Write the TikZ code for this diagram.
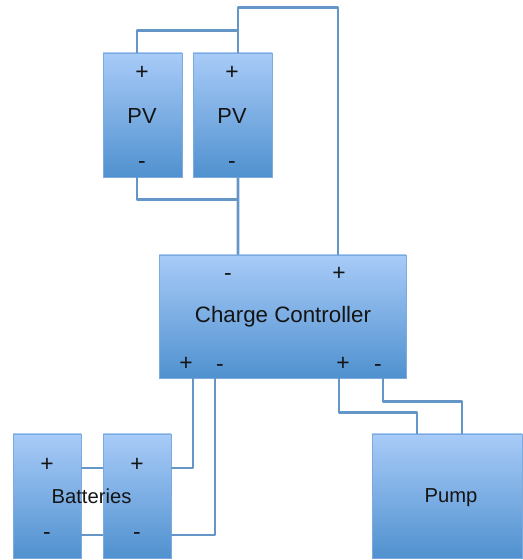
\documentclass[tikz,border=0pt]{standalone}
\usepackage{fontspec}
\setmainfont{Liberation Sans}
\usetikzlibrary{shadows}
\tikzset{
    block/.style={rectangle, draw=boxedge, line width=0.3pt, top color=boxtop, bottom color=boxbottom, inner sep=0pt, drop shadow={shadow xshift=0.4pt, shadow yshift=-0.6pt, opacity=0.35}},
    wire/.style={draw=wirecol, line width=1.6pt, line join=round},
    pole/.style={text=black!92, font=\fontsize{11.5}{12}\selectfont},
    sign/.style={pole, font=\fontsize{13}{14}\selectfont},
}
\definecolor{boxtop}{RGB}{168,203,248}
\definecolor{boxbottom}{RGB}{80,145,207}
\definecolor{boxedge}{RGB}{125,170,220}
\definecolor{wirecol}{RGB}{100,150,200}
\begin{document}
\begin{tikzpicture}
        \useasboundingbox (0, 0) rectangle (10.44, 11.2);
        \node[block, minimum width = 1.58cm, minimum height = 2.48cm] (pvone) at (2.85, 8.90) {};
        \node[block, minimum width = 1.58cm, minimum height = 2.48cm] (pvtwo) at (4.65, 8.90) {};
        \node[block, minimum width = 4.94cm, minimum height = 2.46cm] (cc) at (5.65, 4.87) {};
        \node[block, minimum width = 1.36cm, minimum height = 2.48cm] (batone) at (0.94, 1.28) {};
        \node[block, minimum width = 1.36cm, minimum height = 2.48cm] (battwo) at (2.74, 1.28) {};
        \node[block, minimum width = 3cm, minimum height = 2.48cm] (pump) at (8.94, 1.28) {};
        % solar panels
        \node[sign] (pvoneplus) at (2.84, 9.74) {+};
        \node[pole, font = \fontsize{12.4}{13}\selectfont] (pvonelabel) at (2.84, 8.88) {PV};
        \node[sign] (pvoneminus) at (2.84, 7.90) {-};
        \node[sign] (pvtwoplus) at (4.64, 9.74) {+};
        \node[pole, font = \fontsize{12.4}{13}\selectfont] (pvtwolabel) at (4.64, 8.88) {PV};
        \node[sign] (pvtwominus) at (4.64, 7.90) {-};
        \draw[wire] ([xshift = -0.11cm]pvone.north) |- ([xshift = 0.11cm, yshift = 0.44cm]pvtwo.north);
        \draw[wire] ([xshift = 0.11cm]pvtwo.north) -- ++(0, 0.9) -| ([xshift = 1.11cm]cc.north);
        \draw[wire] ([xshift = -0.11cm]pvone.south) |- ([xshift = 0.11cm, yshift = -0.44cm]pvtwo.south);
        \draw[wire] ([xshift = 0.11cm]pvtwo.south) -- ([xshift = -0.89cm]cc.north);
        % controller
        \node[pole, font = \fontsize{12.7}{13}\selectfont] (ccname) at (5.66, 4.86) {Charge Controller};
        \node[sign] (cctopminus) at (4.56, 5.66) {-};
        \node[sign] (cctopplus) at (6.78, 5.72) {+};
        \node[sign] (ccbatplus) at (3.72, 3.92) {+};
        \node[sign] (ccbatminus) at (4.40, 3.84) {-};
        \node[sign] (ccpumpplus) at (6.86, 3.92) {+};
        \node[sign] (ccpumpminus) at (7.56, 3.84) {-};
        % batteries
        \node[sign] (batoneplus) at (0.94, 1.90) {+};
        \node[sign] (batoneminus) at (0.94, 0.48) {-};
        \node[sign] (battwoplus) at (2.74, 1.90) {+};
        \node[sign] (battwominus) at (2.74, 0.48) {-};
        \node[pole] (batlabel) at (1.83, 1.28) {Batteries};
        \draw[wire] ([yshift = 0.56cm]batone.east) -- ([yshift = 0.56cm]battwo.west);
        \draw[wire] ([yshift = -0.78cm]batone.east) -- ([yshift = -0.78cm]battwo.west);
        \draw[wire] ([yshift = 0.56cm]battwo.east) -| ([xshift = -1.79cm]cc.south);
        \draw[wire] ([yshift = -0.78cm]battwo.east) -| ([xshift = -1.35cm]cc.south);
        % pump
        \node[pole] (pumplabel) at (9.02, 1.25) {Pump};
        \draw[wire] ([xshift = 1.13cm]cc.south) -- ++(0, -0.68) -| ([xshift = -0.6cm]pump.north);
        \draw[wire] ([xshift = 2.01cm]cc.south) -- ++(0, -0.46) -| ([xshift = 0.3cm]pump.north);
    \end{tikzpicture}
\end{document}
